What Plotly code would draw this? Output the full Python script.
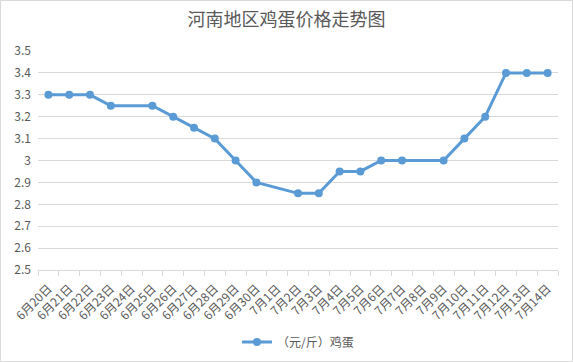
import plotly.graph_objects as go

dates = ["6月20日","6月21日","6月22日","6月23日","6月24日","6月25日","6月26日","6月27日","6月28日","6月29日","6月30日",
         "7月1日","7月2日","7月3日","7月4日","7月5日","7月6日","7月7日","7月8日","7月9日","7月10日","7月11日","7月12日","7月13日","7月14日"]
prices = [3.3,3.3,3.3,3.25,None,3.25,3.2,3.15,3.1,3.0,2.9,
          None,2.85,2.85,2.95,2.95,3.0,3.0,None,3.0,3.1,3.2,3.4,3.4,3.4]
yticks = [2.5,2.6,2.7,2.8,2.9,3.0,3.1,3.2,3.3,3.4,3.5]
ytext = ["2.5","2.6","2.7","2.8","2.9","3","3.1","3.2","3.3","3.4","3.5"]

W, H = 573, 362
L, R, T, B = 38, 15, 51, 92
pw = W - L - R
ph = H - T - B

font = "Noto Sans CJK SC, Microsoft YaHei, sans-serif"
gray = "#595959"

fig = go.Figure()
fig.add_trace(go.Scatter(
    x=dates, y=prices, mode="lines+markers", name="（元/斤）鸡蛋",
    connectgaps=True,
    line=dict(color="#5B9BD5", width=3),
    marker=dict(color="#5B9BD5", size=8),
))

fig.update_layout(
    width=W, height=H,
    margin=dict(l=L, r=R, t=T, b=B, autoexpand=False),
    paper_bgcolor="white", plot_bgcolor="white",
    title=dict(text="河南地区鸡蛋价格走势图", x=0.5, xanchor="center", y=1 - 20/H, yanchor="middle",
               font=dict(family=font, size=18, color=gray)),
    font=dict(family=font, color=gray, size=11),
    showlegend=True,
    legend=dict(orientation="h", x=0.5, xanchor="center", y=-(342 - T - ph)/ph, yanchor="middle",
                font=dict(family=font, size=12, color=gray)),
    xaxis=dict(type="category", categoryorder="array", categoryarray=dates, automargin=False,
               tickangle=-45, tickson="boundaries", ticks="outside", ticklen=5,
               tickcolor="#d9d9d9", showline=True, linecolor="#d9d9d9", linewidth=1,
               showgrid=False, tickfont=dict(size=12, color=gray), range=[-0.5, len(dates) - 0.5],
               ticklabelstandoff=6),
    yaxis=dict(range=[2.5, 3.5], tickvals=yticks, ticktext=ytext, showgrid=True, automargin=False,
               gridcolor="#d9d9d9", gridwidth=1, zeroline=False, showline=False,
               tickfont=dict(size=12, color=gray), ticks="", ticklabelstandoff=6),
    shapes=[dict(type="rect", xref="paper", yref="paper",
                 x0=-(L - 0.5)/pw, x1=1 + (R - 0.5)/pw, y0=-(B - 0.5)/ph, y1=1 + (T - 0.5)/ph,
                 line=dict(color="#d9d9d9", width=1), fillcolor="rgba(0,0,0,0)", layer="below")],
)

fig.write_html("out.html", config={"displayModeBar": False},
               post_script="document.body.style.margin='0';")
